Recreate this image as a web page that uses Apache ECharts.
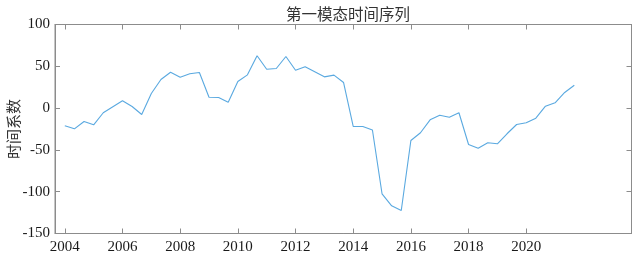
<!DOCTYPE html>
<html>
<head>
<meta charset="utf-8">
<script src="https://cdn.jsdelivr.net/npm/echarts@6/dist/echarts.min.js"></script>
<style>
html,body{margin:0;padding:0;background:#fff;}
#chart{width:637px;height:261px;}
</style>
</head>
<body>
<div id="chart"></div>
<script>
// Sampling: three samples per year starting at 2004
const startYear = 2004;
const samplesPerYear = 3;
const coefficients = [
  -21.2, -24.8, -16.0, -20.0, -5.6, 1.6, 8.7, 1.9, -7.7, 17.5,
  34.2, 42.9, 37.0, 41.0, 42.6, 13.0, 12.7, 7.1, 31.8, 39.8,
  62.6, 46.5, 47.4, 61.7, 45.3, 49.4, 43.4, 37.4, 39.4, 30.6,
  -22.0, -22.0, -26.2, -102.5, -116.9, -122.5, -38.8, -29.5, -14.0, -8.5,
  -10.9, -5.6, -43.5, -48.0, -41.5, -42.7, -30.7, -19.6, -17.6, -12.1,
  2.3, 6.3, 18.7, 27.4
];
const xTicks = [2004, 2006, 2008, 2010, 2012, 2014, 2016, 2018, 2020];
const yTicks = [-150, -100, -50, 0, 50, 100];
const titleText = '第一模态时间序列';
const yName = '时间系数';

const seriesData = coefficients.map((v, i) => [startYear + i / samplesPerYear, v]);

const chart = echarts.init(document.getElementById('chart'), null, {renderer: 'canvas'});
const axisGray = '#8c8c8c';
const labelFont = {fontFamily: 'Liberation Serif', fontSize: 15, color: '#1a1a1a'};

chart.setOption({
  animation: false,
  backgroundColor: '#ffffff',
  title: {
    text: titleText,
    left: 343, top: 1, textAlign: 'center',
    textStyle: {fontFamily: 'Noto Sans CJK SC', fontSize: 15.5, fontWeight: 'normal', color: '#333333'}
  },
  grid: {left: 55, right: 5.5, top: 24.5, bottom: 27.5, containLabel: false, outerBoundsMode: 'none',
    show: true, borderColor: axisGray, borderWidth: 1, backgroundColor: 'transparent'},
  xAxis: [{
    type: 'value', min: 2003.66, max: 2023.65, position: 'bottom',
    axisLine: {show: true, onZero: false, lineStyle: {color: axisGray}},
    axisTick: {show: true, inside: true, length: 5, customValues: xTicks, lineStyle: {color: axisGray}},
    axisLabel: Object.assign({customValues: xTicks, margin: 6, formatter: v => String(v)}, labelFont),
    splitLine: {show: false}
  }, {
    type: 'value', min: 2003.66, max: 2023.65, position: 'top',
    axisLine: {show: true, onZero: false, lineStyle: {color: axisGray}},
    axisTick: {show: true, inside: true, length: 5, customValues: xTicks, lineStyle: {color: axisGray}},
    axisLabel: {show: false},
    splitLine: {show: false}
  }],
  yAxis: [{
    type: 'value', min: -150, max: 100, interval: 50, position: 'left',
    name: yName, nameLocation: 'middle', nameGap: 34, nameRotate: 90, nameMoveOverlap: false,
    nameTextStyle: {fontFamily: 'Noto Sans CJK SC', fontSize: 15, color: '#333333'},
    axisLine: {show: true, onZero: false, lineStyle: {color: axisGray}},
    axisTick: {show: true, inside: true, length: 5, customValues: yTicks, lineStyle: {color: axisGray}},
    axisLabel: Object.assign({customValues: yTicks, margin: 5}, labelFont),
    splitLine: {show: false}
  }, {
    type: 'value', min: -150, max: 100, interval: 50, position: 'right',
    axisLine: {show: true, onZero: false, lineStyle: {color: axisGray}},
    axisTick: {show: true, inside: true, length: 5, customValues: yTicks, lineStyle: {color: axisGray}},
    axisLabel: {show: false},
    splitLine: {show: false}
  }],
  series: [{
    type: 'line',
    xAxisIndex: 0, yAxisIndex: 0,
    data: seriesData,
    showSymbol: false,
    lineStyle: {color: '#5aa9e0', width: 1.1},
    itemStyle: {color: '#5aa9e0'}
  }]
});
</script>
</body>
</html>
